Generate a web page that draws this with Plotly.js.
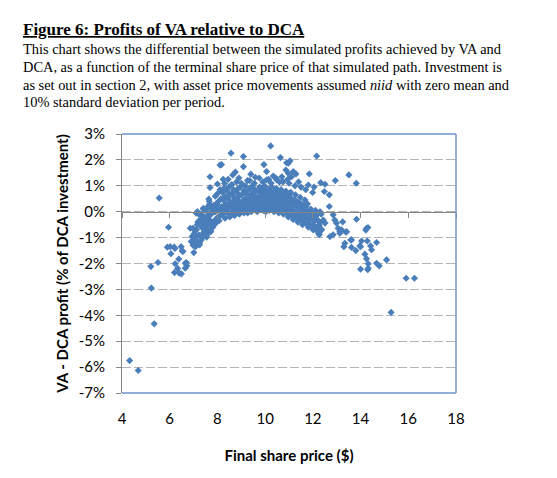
<!DOCTYPE html>
<html>
<head>
<meta charset="utf-8">
<script src="https://cdn.plot.ly/plotly-3.0.1.min.js"></script>
<style>
html,body{margin:0;padding:0;background:#fff;}
#chart{width:557px;height:478px;}
</style>
</head>
<body>
<div id="chart"></div>
<script>
// ---- Data (final share price $, VA - DCA profit in % of DCA investment) ----
var tailLeftX = [4.32,4.68,5.23,5.35,5.21,5.51,5.56,5.95,5.90,6.02,6.19,6.22,6.05,6.48,6.52,6.38,6.23,6.33,6.20,6.40,6.49,6.65,6.70,6.72,6.55,6.65,7.01,6.86,6.97,7.03,6.94,6.90,7.03,7.00,7.08,7.25,7.16,7.32,7.23,7.49,7.39,7.55,7.46,7.62,7.72,7.58,7.53,7.58,7.69,7.16,7.22,7.11,7.41,7.67,7.81,7.97,7.90,8.00,7.64,7.69,8.00,7.69,8.11];
var tailLeftY = [-5.75,-6.13,-2.95,-4.33,-2.12,-1.96,0.53,-0.60,-1.37,-1.35,-1.37,-1.42,-1.62,-1.35,-1.50,-1.83,-2.01,-2.19,-2.35,-2.37,-2.40,-2.18,-1.96,-2.09,-1.54,-1.99,-1.58,-0.64,-0.64,-0.70,-0.96,-1.15,-1.22,-1.28,-1.35,-1.28,-1.15,-1.09,-0.92,-0.90,-0.98,-0.98,-0.70,-0.77,-0.77,-0.51,-0.32,-0.19,-0.34,0.00,-0.10,-0.06,0.13,0.29,0.13,0.10,0.00,0.26,0.49,0.93,1.07,1.35,1.80];

var coreLowX = [
 6.98,7.05,7.02,7.12,7.08,7.15,7.22,7.18,7.25,7.33,7.28,7.36,7.31,
 7.42,7.38,7.45,7.41,7.52,7.48,7.55,7.51,7.62,7.58,7.65,7.61,7.72,7.68,7.75,7.71,7.66,
 7.82,7.78,7.85,7.81,7.92,7.88,7.95,7.91,7.87,8.02,7.98,8.05,8.01,7.97,8.12,8.08,8.15,8.11,8.07,
 8.22,8.18,8.25,8.21,8.17,8.32,8.28,8.35,8.31,8.27,8.42,8.38,8.45,8.41,8.37,8.52,8.48,8.55,8.51,8.47,
 8.62,8.58,8.65,8.61,8.57,8.72,8.68,8.75,8.71,8.67,8.82,8.78,8.85,8.81,8.77,8.92,8.88,8.95,8.91,8.87,
 9.02,8.98,9.05,9.01,8.97,9.12,9.08,9.15,9.11,9.07,9.22,9.18,9.25,9.21,9.17,9.32,9.28,9.35,9.31,9.27];
var coreLowY = [
 -1.30,-1.00,-0.85,-0.70,-1.10,-0.50,-0.90,-0.40,-1.20,-0.60,-0.30,-0.95,-0.10,
 -0.80,-0.45,-0.20,0.10,-0.55,-0.25,-0.90,0.05,-0.70,-0.35,-0.10,0.20,-0.50,-0.15,0.10,-0.75,0.40,
 -0.40,-0.05,0.25,-0.60,-0.30,0.00,0.30,0.60,-0.50,-0.20,0.10,0.40,0.70,-0.40,-0.15,0.15,0.50,0.85,-0.35,
 -0.10,0.20,0.45,0.75,0.00,-0.25,0.05,0.30,0.60,0.90,-0.05,0.25,0.50,0.80,0.10,-0.20,0.15,0.35,0.65,0.95,
 0.00,0.20,0.40,0.70,-0.10,-0.15,0.10,0.30,0.55,0.85,0.05,0.25,0.45,0.75,-0.05,-0.10,0.15,0.35,0.60,0.90,
 0.00,0.20,0.40,0.65,0.95,-0.05,0.30,0.50,0.80,0.10,0.05,0.25,0.45,0.70,1.00,0.10,0.35,0.55,0.85,-0.05];

var coreHighX = [
 9.42,9.38,9.45,9.41,9.37,9.52,9.48,9.55,9.51,9.47,9.62,9.58,9.65,9.61,9.57,9.72,9.68,9.75,9.71,9.67,
 9.82,9.78,9.85,9.81,9.77,9.92,9.88,9.95,9.91,9.87,10.02,9.98,10.05,10.01,9.97,10.03,10.12,10.08,10.15,10.11,10.07,
 10.22,10.18,10.25,10.21,10.17,10.32,10.28,10.35,10.31,10.27,10.42,10.38,10.45,10.41,10.37,10.52,10.48,10.55,10.51,10.47,
 10.62,10.58,10.65,10.61,10.57,10.72,10.68,10.75,10.71,10.67,10.82,10.78,10.85,10.81,10.77,10.92,10.88,10.95,10.91,10.87,
 11.02,10.98,11.05,11.01,10.97,11.12,11.08,11.15,11.11,11.07,11.22,11.18,11.25,11.21,11.17,11.32,11.28,11.35,11.31,11.27,
 11.42,11.38,11.45,11.41,11.37,11.52,11.48,11.55,11.51,11.47,11.62,11.58,11.65,11.61,11.57,11.72,11.68,11.75,11.71,11.67,
 11.82,11.78,11.85,11.81,11.77,11.92,11.88,11.95,11.91,12.02,11.98,12.05,12.01,12.12,12.08,12.15,12.11,12.22,12.18,12.25,12.32,12.28,12.35];
var coreHighY = [
 0.00,0.20,0.40,0.65,0.90,0.10,0.30,0.50,0.75,1.00,0.05,0.25,0.45,0.60,0.85,0.15,0.35,0.55,0.80,0.00,
 0.10,0.30,0.50,0.70,0.95,0.05,0.20,0.40,0.60,0.85,0.15,0.35,0.55,0.75,1.00,0.00,0.10,0.30,0.45,0.65,0.90,
 0.20,0.40,0.60,0.80,0.05,0.10,0.25,0.50,0.70,0.95,0.15,0.35,0.55,0.80,0.00,0.05,0.25,0.45,0.65,0.90,
 0.10,0.30,0.50,0.75,-0.05,0.00,0.20,0.40,0.60,0.85,0.10,0.30,0.50,0.70,-0.10,-0.05,0.15,0.35,0.55,0.80,
 0.00,0.20,0.40,0.65,-0.20,-0.15,0.10,0.30,0.50,0.75,-0.10,0.05,0.25,0.45,-0.30,-0.25,0.00,0.20,0.40,0.65,
 -0.20,-0.05,0.15,0.35,-0.40,-0.35,-0.10,0.10,0.30,0.55,-0.30,-0.10,0.05,0.25,-0.50,-0.45,-0.20,0.00,0.20,0.45,
 -0.40,-0.20,0.00,-0.60,0.30,-0.55,-0.30,-0.10,0.10,-0.50,-0.25,-0.05,-0.70,-0.60,-0.35,-0.15,0.05,-0.55,-0.30,-0.85,-0.65,-0.40,-0.10];

var upperX = [10.23,8.57,9.09,10.64,8.17,9.09,9.95,10.90,10.06,8.75,8.64,9.59,10.34,10.48,8.24,9.26,10.75,10.06,12.16,11.04,10.97,10.87,10.97,11.18,11.29,11.11,11.85,13.51,12.94,12.33,12.51,13.82,11.81,10.74,11.99,12.48,12.69,
 8.30,8.45,8.60,8.80,8.90,9.00,9.35,9.55,9.75,9.90,10.15,10.25,10.45,10.60,10.70,10.95,11.00,11.25,11.40,11.50,11.70,12.05,9.40];
var upperY = [2.54,2.26,2.13,2.09,1.82,1.74,1.82,1.89,1.55,1.53,1.42,1.33,1.38,1.23,1.25,1.20,1.16,1.23,2.15,1.96,1.87,1.61,1.48,1.55,1.46,1.35,1.46,1.42,1.20,1.12,1.06,1.10,1.03,1.16,0.74,0.78,0.65,
 1.10,1.25,1.05,1.15,1.30,1.10,1.20,1.10,1.30,1.15,1.25,1.10,1.30,1.15,1.35,1.25,1.10,1.00,1.15,0.95,0.85,0.95,1.45];

var tailRightX = [12.69,12.85,12.92,12.99,13.06,13.13,13.20,13.41,12.72,12.85,13.34,13.62,13.97,12.44,12.30,12.27,12.20,12.27,12.37,12.51,13.83,13.25,13.39,13.13,14.25,14.31,14.22,13.59,14.04,14.28,14.67,13.30,13.62,13.80,14.00,14.42,14.46,14.18,14.25,14.32,14.32,14.30,14.00,14.67,14.78,15.09,15.28,15.91,16.26];
var tailRightY = [0.20,-0.12,-0.32,-0.44,-0.64,-0.83,-0.70,-0.77,-0.96,-0.89,-1.22,-1.09,-1.32,-0.32,0.00,-0.51,-0.77,-0.89,-0.70,-0.44,-0.29,-0.39,-0.79,-0.76,-0.64,-0.61,-0.71,-1.09,-1.13,-1.13,-1.19,-1.35,-1.38,-1.50,-1.35,-1.32,-1.47,-1.64,-1.82,-2.01,-2.18,-2.24,-2.22,-1.99,-2.09,-1.86,-3.89,-2.57,-2.57];

var xTicks = [4,6,8,10,12,14,16,18];
var yTickVals = [3,2,1,0,-1,-2,-3,-4,-5,-6,-7];
var yTickText = ['3%','2%','1%','0%','-1%','-2%','-3%','-4%','-5%','-6%','-7%'];

var figTitle = '<b><u>Figure 6: Profits of VA relative to DCA</u></b>';
var caption = [
 'This chart shows the differential between the simulated profits achieved by VA and',
 'DCA, as a function of the terminal share price of that simulated path. Investment is',
 'as set out in section 2, with asset price movements assumed <i>niid</i> with zero mean and',
 '10% standard deviation per period.'
];

// ---- Layout geometry ----
var W = 557, H = 478;
var M = {l:122, r:101, t:134, b:85};
var PW = W - M.l - M.r, PH = H - M.t - M.b;
function px2x(px){ return (px - M.l) / PW; }
function py2y(py){ return (H - M.b - py) / PH; }

var xs = [].concat(tailLeftX, coreLowX, coreHighX, upperX, tailRightX);
var ys = [].concat(tailLeftY, coreLowY, coreHighY, upperY, tailRightY);

var trace = {
  x: xs, y: ys, type: 'scatter', mode: 'markers',
  marker: {symbol: 'diamond', size: 5.5, color: '#4a7ebb', line: {width: 0}},
  hoverinfo: 'none', showlegend: false
};
// empty trace registering the zero-line axis
var zeroAxisTrace = {x: [], y: [], xaxis: 'x2', yaxis: 'y', type: 'scatter', mode: 'markers', showlegend: false, hoverinfo: 'none'};

var axisFont = {family: 'Lato, "Open Sans", sans-serif', size: 15, color: '#000'};

var serif = '"Liberation Serif", "Times New Roman", serif';
var annotations = [{
  text: figTitle, xref: 'paper', yref: 'paper', x: px2x(21), y: py2y(30),
  xanchor: 'left', yanchor: 'middle', showarrow: false,
  font: {family: serif, size: 17, color: '#000'}
}];
var lineCenters = [49, 67.5, 85, 102.5];
caption.forEach(function(t, i){
  annotations.push({
    text: t, xref: 'paper', yref: 'paper', x: px2x(21), y: py2y(lineCenters[i]),
    xanchor: 'left', yanchor: 'middle', showarrow: false,
    font: {family: serif, size: 14.4, color: '#000'}
  });
});

var borderColor = '#6f95cd';
var layout = {
  width: W, height: H,
  margin: M,
  paper_bgcolor: '#fff', plot_bgcolor: '#fff',
  showlegend: false,
  xaxis: {
    range: [4, 18], tickvals: xTicks, ticks: '', showgrid: false, zeroline: false, showline: false,
    tickfont: axisFont, ticklabelstandoff: 15,
    title: {text: '<b>Final share price ($)</b>', font: axisFont, standoff: 24},
    fixedrange: true
  },
  xaxis2: {
    overlaying: 'x', matches: 'x', anchor: 'free', position: 0.7, side: 'bottom',
    range: [4, 18], tickvals: xTicks, ticks: 'outside', ticklen: 5, tickcolor: '#868686', tickwidth: 1,
    showticklabels: false, showgrid: false, zeroline: false,
    showline: true, linecolor: '#868686', linewidth: 1
  },
  yaxis: {
    range: [-7, 3], tickvals: yTickVals, ticktext: yTickText,
    ticks: 'outside', ticklen: 5, tickcolor: '#868686',
    showline: true, linecolor: '#868686', linewidth: 1,
    showgrid: true, gridcolor: '#b4b4b4', gridwidth: 1, griddash: '9px,3px',
    zeroline: false, tickfont: axisFont, ticklabelstandoff: 8,
    title: {text: '<b>VA - DCA profit (% of DCA investment)</b>', font: axisFont, standoff: 6},
    fixedrange: true
  },
  shapes: [
    {type: 'line', xref: 'paper', yref: 'paper', x0: 0, x1: 1, y0: 1, y1: 1, line: {color: borderColor, width: 1.5}, layer: 'above'},
    {type: 'line', xref: 'paper', yref: 'paper', x0: 1, x1: 1, y0: 0, y1: 1, line: {color: borderColor, width: 1.5}, layer: 'above'},
    {type: 'line', xref: 'paper', yref: 'paper', x0: 0, x1: 1, y0: 0, y1: 0, line: {color: borderColor, width: 1.5}, layer: 'above'}
  ],
  annotations: annotations
};

Plotly.newPlot('chart', [trace, zeroAxisTrace], layout, {staticPlot: true, displayModeBar: false});
</script>
</body>
</html>
